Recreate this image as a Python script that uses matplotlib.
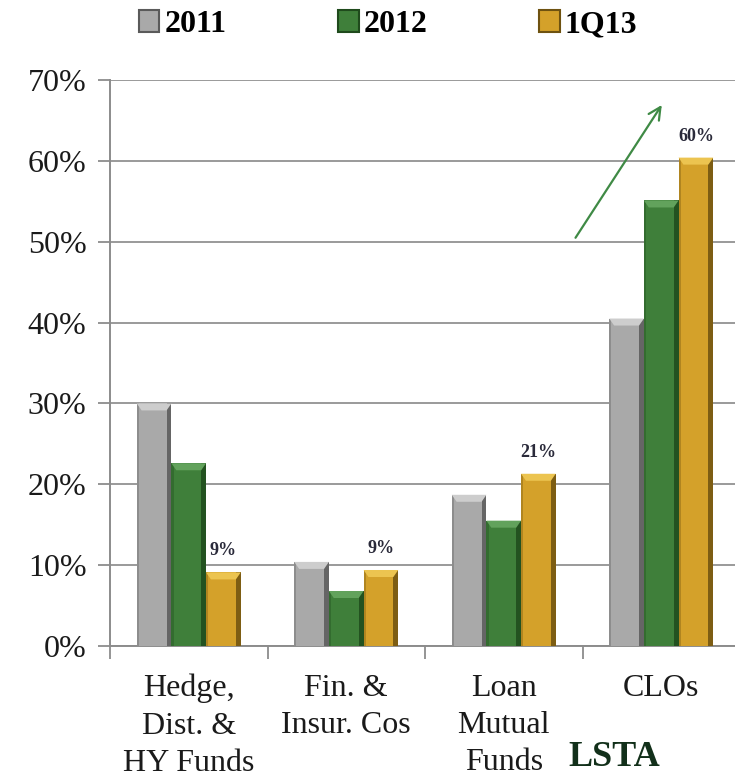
import matplotlib
matplotlib.use("Agg")
import matplotlib.pyplot as plt
from matplotlib.patches import Rectangle, Polygon
import numpy as np

categories = ["Hedge,\nDist. &\nHY Funds", "Fin. &\nInsur. Cos", "Loan\nMutual\nFunds", "CLOs"]
series_names = ["2011", "2012", "1Q13"]
values_2011 = [30.0, 10.4, 18.7, 40.5]
values_2012 = [22.6, 6.8, 15.5, 55.1]
values_1q13 = [9.1, 9.4, 21.3, 60.4]
label_1q13 = ["9%", "9%", "21%", "60%"]
yticks = [0, 10, 20, 30, 40, 50, 60, 70]

colors = ["#a9a9a9", "#3f7f3a", "#d4a12a"]
dark = ["#5a5a5a", "#1f4a1c", "#6e5210"]
light = ["#cdcdcd", "#62a25c", "#ecc450"]

plt.rcParams["font.family"] = ["Liberation Serif", "DejaVu Serif"]

fig = plt.figure(figsize=(7.35, 7.77), dpi=100)
ax = fig.add_axes([110 / 735, 131 / 777, 630 / 735, 566 / 777])

x = np.arange(len(categories))
w = 0.22
all_vals = [values_2011, values_2012, values_1q13]
bar_groups = []
for i, vals in enumerate(all_vals):
    bars = ax.bar(x + (i - 1) * w, vals, width=w, color=colors[i],
                  edgecolor="none", zorder=3, label=series_names[i])
    bar_groups.append(bars)

# bevel shading on each bar
px_y = 566 / 70.0   # pixels per percent
for i, bars in enumerate(bar_groups):
    for b in bars:
        bx, bw, bh = b.get_x(), b.get_width(), b.get_height()
        ax.add_patch(Rectangle((bx + bw * 0.86, 0), bw * 0.14, bh,
                               facecolor=dark[i], edgecolor="none", alpha=0.85, zorder=4))
        ax.add_patch(Rectangle((bx, 0), bw * 0.06, bh,
                               facecolor=dark[i], edgecolor="none", alpha=0.35, zorder=4))
        top_h = 7 / px_y
        ax.add_patch(Polygon([(bx, bh), (bx + bw, bh), (bx + bw * 0.86, bh - top_h),
                              (bx + bw * 0.14, bh - top_h)], closed=True,
                             facecolor=light[i], edgecolor="none", zorder=5))

for xi, v, lab in zip(x, values_1q13, label_1q13):
    ax.text(xi + w, v + 1.6, lab, ha="center", va="bottom", fontsize=13,
            fontweight="bold", color="#2a2a3a", zorder=6)

ax.set_xlim(-0.5, 3.5)
ax.set_ylim(0, 70)
ax.set_yticks(yticks)
ax.set_yticklabels([f"{t}%" for t in yticks], fontsize=23, color="#1a1a1a")
ax.set_xticks(x)
ax.set_xticklabels(categories, fontsize=23, color="#1a1a1a", linespacing=1.38)
ax.set_xticks(np.arange(-0.5, 4, 1.0), minor=True)
ax.tick_params(axis="x", which="major", length=0, pad=20)
ax.tick_params(axis="x", which="minor", length=9, color="#8c8c8c", width=1.3)
ax.tick_params(axis="y", length=9, color="#8c8c8c", width=1.3, pad=8)

ax.grid(axis="y", color="#9a9a9a", linewidth=1.4, zorder=0)
ax.set_axisbelow(True)
for s in ["top", "right"]:
    ax.spines[s].set_visible(False)
for s in ["left", "bottom"]:
    ax.spines[s].set_color("#8c8c8c")
    ax.spines[s].set_linewidth(1.4)

ax.annotate("", xy=(3.013, 67.2), xytext=(2.446, 50.2),
            arrowprops=dict(arrowstyle="->", color="#3f8a45", lw=1.6,
                            mutation_scale=22), zorder=6)

handles = [Rectangle((0, 0), 1, 1, facecolor=colors[i], edgecolor=dark[i], linewidth=1.5)
           for i in range(3)]
fig.legend(handles, series_names, loc="upper center", bbox_to_anchor=(0.528, 1.024),
           ncol=3, frameon=False, handlelength=0.65, handleheight=0.65,
           handletextpad=0.15, columnspacing=3.5,
           prop={"family": ["Liberation Serif"], "weight": "bold", "size": 23})

fig.text(568 / 735, 3 / 777, "LSTA", ha="left", va="bottom", fontsize=26,
         fontweight="bold", color="#12301a")

fig.savefig("out.png", dpi=100)
